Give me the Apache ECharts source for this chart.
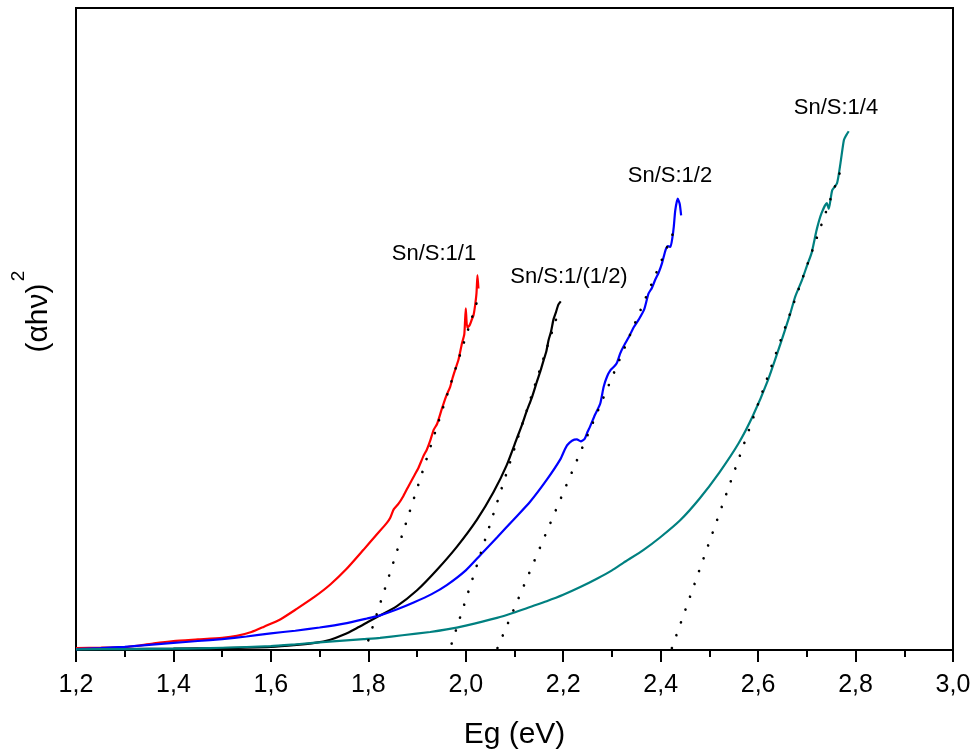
<!DOCTYPE html>
<html>
<head>
<meta charset="utf-8">
<script src="https://cdn.jsdelivr.net/npm/echarts@6.0.0/dist/echarts.min.js"></script>
<style>
html,body{margin:0;padding:0;background:#fff;}
#chart{width:978px;height:755px;}
</style>
</head>
<body>
<div id="chart"></div>
<script>
// Axis
const xMin = 1.2, xMax = 3.0, xStep = 0.2;
const yMin = 0, yMax = 100;

// Series names
const seriesNames = ['Sn/S:1/1', 'Sn/S:1/(1/2)', 'Sn/S:1/2', 'Sn/S:1/4'];

// Sn/S:1/1 (red) [Eg, (ahv)^2 arbitrary units]
const snS_1_1 = [
  [1.20,0.3],[1.25,0.35],[1.30,0.45],[1.33,0.7],[1.36,1.05],[1.40,1.4],[1.45,1.65],[1.50,1.9],
  [1.53,2.2],[1.56,2.8],[1.585,3.6],[1.62,4.8],[1.653,6.4],[1.69,8.3],[1.722,10.2],[1.755,12.6],[1.79,15.6],
  [1.815,17.8],[1.838,19.8],[1.845,20.6],[1.852,21.9],[1.862,22.8],[1.872,24.0],[1.883,25.6],
  [1.893,27.0],[1.903,28.4],[1.913,30.2],[1.920,31.2],[1.927,32.6],[1.934,34.3],[1.941,35.2],
  [1.951,37.6],[1.960,39.6],[1.968,41.0],[1.973,42.4],[1.978,43.6],[1.985,45.2],[1.992,47.7],
  [1.997,49.2],[2.000,53.2],[2.003,50.2],[2.008,50.6],[2.012,51.4],[2.016,52.2],[2.019,53.6],
  [2.022,55.6],[2.024,58.4],[2.026,56.3]
];

// Sn/S:1/(1/2) (black)
const snS_1_half = [
  [1.20,0.1],[1.30,0.15],[1.40,0.2],[1.50,0.3],[1.60,0.5],[1.653,0.8],[1.69,1.1],[1.722,1.6],
  [1.75,2.4],[1.776,3.4],[1.80,4.4],[1.817,5.1],[1.858,6.8],[1.90,9.3],[1.941,12.5],[1.982,16.1],[2.023,20.3],
  [2.057,24.6],[2.084,28.8],[2.105,33.0],[2.115,35.0],[2.125,37.2],[2.136,39.4],[2.146,41.8],
  [2.153,43.4],[2.16,45.2],[2.165,46.4],[2.17,48.3],[2.175,49.6],[2.18,51.5],[2.185,52.6],
  [2.19,53.8],[2.195,54.3]
];

// Sn/S:1/2 (blue)
const snS_1_2 = [
  [1.20,0.15],[1.25,0.3],[1.30,0.5],[1.35,0.8],[1.40,1.1],[1.45,1.4],[1.50,1.7],[1.55,2.1],
  [1.60,2.6],[1.65,3.0],[1.70,3.5],[1.75,4.1],[1.797,4.9],[1.824,5.4],[1.858,6.3],[1.893,7.4],
  [1.93,8.7],[1.961,10.1],[2.00,12.4],[2.03,14.8],[2.065,17.6],[2.098,20.3],[2.132,23.1],
  [2.166,26.5],[2.194,29.7],[2.203,31.2],[2.208,31.9],[2.218,32.6],[2.228,32.8],[2.236,32.5],
  [2.244,32.9],[2.250,34.0],[2.255,34.8],[2.265,36.6],[2.276,38.4],[2.283,41.0],[2.29,42.6],
  [2.297,43.6],[2.305,44.2],[2.31,44.7],[2.317,46.2],[2.324,47.3],[2.335,48.8],[2.345,50.3],
  [2.356,51.6],[2.366,53.0],[2.375,55.5],[2.382,56.4],[2.389,57.7],[2.396,58.8],[2.403,60.3],
  [2.41,62.3],[2.415,62.9],[2.42,62.8],[2.424,64.2],[2.427,66.0],[2.43,68.5],[2.435,70.3],
  [2.439,69.5],[2.442,67.7]
];

// Sn/S:1/4 (teal)
const snS_1_4 = [
  [1.20,0.1],[1.30,0.15],[1.40,0.2],[1.45,0.25],[1.50,0.35],[1.60,0.6],[1.653,0.9],
  [1.72,1.3],[1.79,1.7],[1.824,1.9],[1.87,2.3],[1.927,2.8],[1.961,3.2],[2.00,3.8],
  [2.064,5.0],[2.098,5.8],[2.132,6.7],[2.166,7.6],[2.20,8.6],[2.235,9.8],[2.269,11.1],[2.30,12.4],
  [2.324,13.6],[2.365,15.6],[2.40,17.6],[2.44,20.2],[2.48,23.6],[2.52,27.6],[2.56,32.2],
  [2.59,36.6],[2.62,42.0],[2.645,47.5],[2.666,52.4],[2.676,55.0],[2.69,57.6],[2.70,59.8],
  [2.71,61.9],[2.72,65.4],[2.73,68.0],[2.741,69.6],[2.745,68.7],[2.752,71.6],[2.762,72.7],
  [2.769,75.8],[2.776,79.4],[2.781,80.2],[2.786,80.8]
];

// Linear fits (dotted) used to extract Eg
const fit_1_1 = [[1.800,1.5],[2.028,55.4]];
const fit_1_half = [[1.971,1.0],[2.190,52.6]];
const fit_1_2 = [[2.065,0.3],[2.432,66.1]];
const fit_1_4 = [[2.423,0.3],[2.774,75.7]];

const colors = ['#ff0000', '#000000', '#0000ff', '#008080'];
const curves = [snS_1_1, snS_1_half, snS_1_2, snS_1_4];
const fits = [fit_1_1, fit_1_half, fit_1_2, fit_1_4];

const FONT = 'Liberation Sans, Arial, Helvetica, sans-serif';

const chart = echarts.init(document.getElementById('chart'), null, {renderer: 'canvas'});

const series = [];
fits.forEach((f, i) => {
  series.push({
    type: 'line', name: 'fit ' + seriesNames[i], data: f, showSymbol: false, silent: true,
    z: 3,
    lineStyle: {color: '#000', width: 2.6, type: [0.1, 13.5], cap: 'round'}
  });
});
curves.forEach((c, i) => {
  series.push({
    type: 'line', name: seriesNames[i], data: c, showSymbol: false,
    smooth: 0.2,
    z: 2,
    lineStyle: {color: colors[i], width: 2.2}
  });
});

const labelPos = [[434, 254], [569, 277], [670, 176], [836, 108]];

const option = {
  backgroundColor: '#fff',
  animation: false,
  grid: {left: 76, right: 25, top: 8, bottom: 105, show: true, borderColor: '#000', borderWidth: 2, backgroundColor: 'transparent'},
  xAxis: {
    type: 'value', min: xMin, max: xMax, interval: xStep,
    name: 'Eg (eV)', nameLocation: 'middle', nameGap: 70,
    nameTextStyle: {fontSize: 30, color: '#000', fontFamily: FONT},
    axisLine: {show: true, onZero: false, lineStyle: {color: '#000', width: 2}},
    axisTick: {show: true, inside: false, length: 12, lineStyle: {color: '#000', width: 2}},
    minorTick: {show: true, splitNumber: 2, length: 7, lineStyle: {color: '#000', width: 2}},
    splitLine: {show: false},
    axisLabel: {fontSize: 25, color: '#000', fontFamily: FONT, margin: 23,
      formatter: v => v.toFixed(1).replace('.', ',')}
  },
  yAxis: {
    type: 'value', min: yMin, max: yMax,
    axisLine: {show: true, onZero: false, lineStyle: {color: '#000', width: 2}},
    axisTick: {show: false}, axisLabel: {show: false}, splitLine: {show: false}
  },
  graphic: [
    {type: 'text', x: 39, y: 318, rotation: Math.PI / 2,
      style: {text: '(αhν)', font: '30px ' + FONT, fill: '#000', align: 'center', verticalAlign: 'middle'}},
    {type: 'text', x: 19, y: 276, rotation: Math.PI / 2,
      style: {text: '2', font: '19px ' + FONT, fill: '#000', align: 'center', verticalAlign: 'middle'}}
  ].concat(seriesNames.map((n, i) => ({
    type: 'text', x: labelPos[i][0], y: labelPos[i][1],
    style: {text: n, font: '22px ' + FONT, fill: '#000', align: 'center', verticalAlign: 'middle'}
  }))),
  series: series
};
chart.setOption(option);
</script>
</body>
</html>
